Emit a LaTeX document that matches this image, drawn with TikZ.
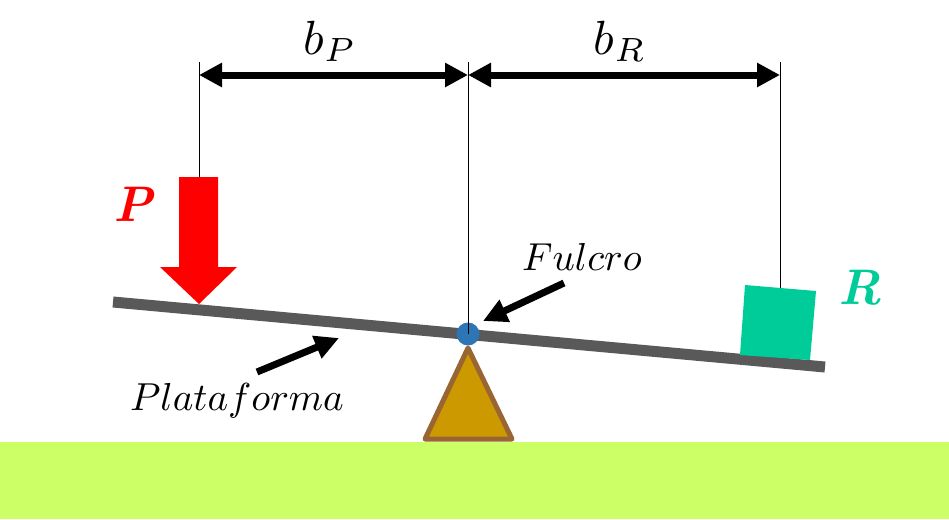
\documentclass[tikz,border=0pt]{standalone}
\usepackage{graphicx}
\usetikzlibrary{arrows.meta}
\definecolor{groundc}{HTML}{CCFF66}
\definecolor{beamc}{HTML}{595959}
\definecolor{fulc}{HTML}{2E75B6}
\definecolor{suppfill}{HTML}{CC9900}
\definecolor{suppdraw}{HTML}{996633}
\definecolor{boxc}{HTML}{00CC99}
\definecolor{redc}{HTML}{FF0000}
\begin{document}
\begin{tikzpicture}[x=1pt,y=-1pt,
  thinline/.style={line width=1pt,black},
  dimarrow/.style={line width=7pt,{Triangle[length=23pt,width=23pt]}-{Triangle[length=23pt,width=23pt]}},
  ptrarrow/.style={line width=7pt,-{Triangle[length=24pt,width=23pt]}},
  lbl/.style={inner sep=0pt},
  biglbl/.style={inner sep=0pt,font=\fontsize{50}{60}\selectfont\bfseries\itshape}]
\useasboundingbox (0,0) rectangle (949,519);
% ground
\fill[groundc] (0,442) rectangle (949,519);
% support
\draw[fill=suppfill,draw=suppdraw,line width=5pt,line join=round] (468,348) -- (512,439) -- (425,439) -- cycle;
% beam
\draw[beamc,line width=11pt] (113,302) -- (825,367);
% coordinates
\coordinate (topP) at (199,62);
\coordinate (topF) at (468,62);
\coordinate (topR) at (780,62);
\coordinate (dimP) at (199,75);
\coordinate (dimF) at (468,75);
\coordinate (dimR) at (780,75);
\coordinate (boxtop) at (780,288);
\coordinate (arrtop) at (199,177);
% green box
\fill[boxc] (745,285) -- (816,291) -- (810,360) -- (740,355) -- cycle;
% fulcrum
\node[circle,fill=fulc,minimum size=23pt,inner sep=0pt] (fc) at (468,334) {};
% vertical lines
\draw[thinline] (topP) -- (arrtop);
\draw[thinline] (topF) -- (fc.center);
\draw[thinline] (topR) -- (boxtop);
% dimension arrows
\draw[dimarrow] (dimP) -- (dimF);
\draw[dimarrow] (dimF) -- (dimR);
\node[lbl,anchor=base] (bP) at (330,54) {\scalebox{4.8}{$b_P$}};
\node[lbl,anchor=base] (bR) at (620,54) {\scalebox{4.8}{$b_R$}};
% red force arrow
\fill[redc] (179,177) -- (218,177) -- (218,267) -- (237,267) -- (199,304) -- (160,267) -- (179,267) -- cycle;
\node[biglbl,text=redc] (P) at (133,204) {P};
\node[biglbl,text=boxc] (R) at (860,288) {R};
% Fulcro
\node[lbl,anchor=base] (fl) at (582,270) {\scalebox{3.9}{$Fulcro$}};
\coordinate (ftail) at (564,283);
\draw[ptrarrow] (ftail) -- (483,321);
% Plataforma
\node[lbl,anchor=base] (pl) at (237,410) {\scalebox{3.9}{$Plataforma$}};
\coordinate (ptail) at (257,372);
\draw[ptrarrow] (ptail) -- (339,338);
\end{tikzpicture}
\end{document}
